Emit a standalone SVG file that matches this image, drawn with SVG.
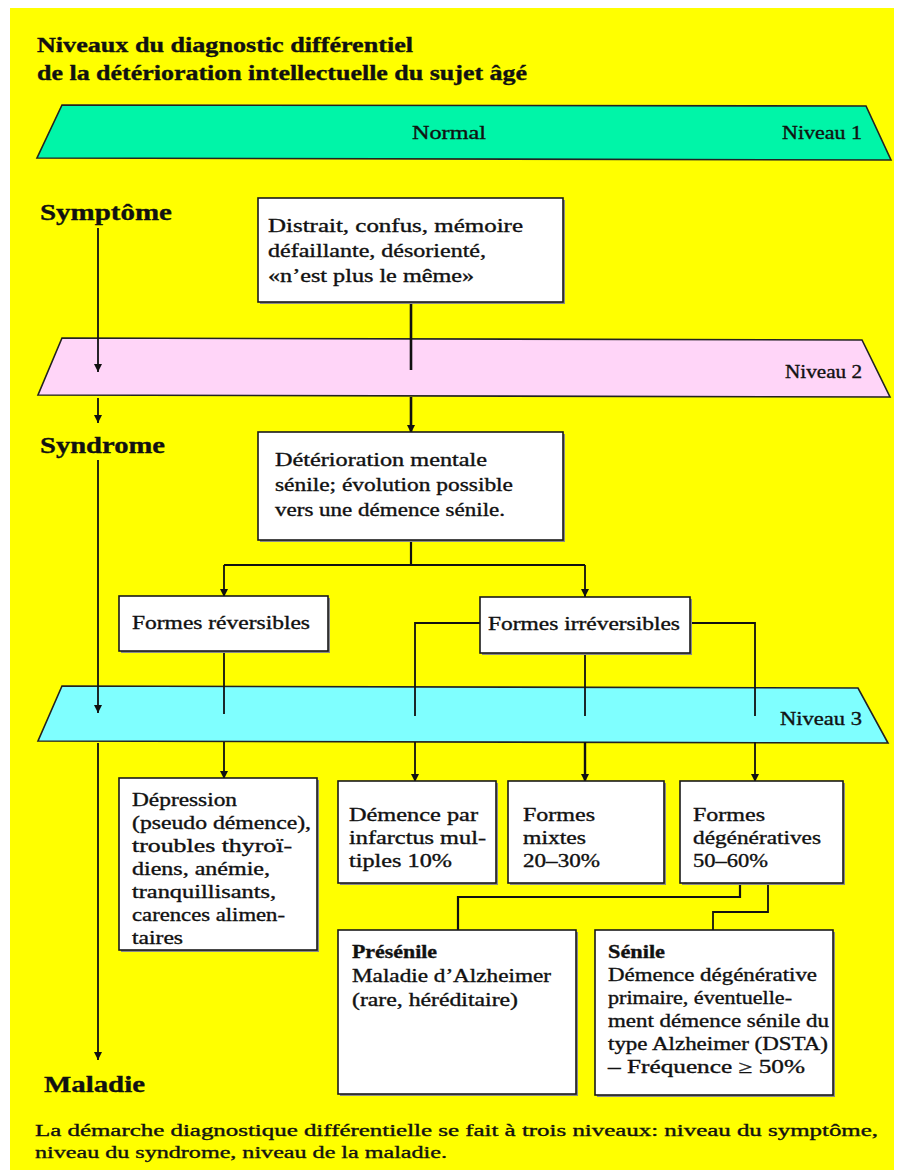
<svg xmlns="http://www.w3.org/2000/svg" width="897" height="1170" viewBox="0 0 897 1170">
<defs>
<marker id="arr" markerUnits="userSpaceOnUse" markerWidth="8" markerHeight="9" refX="8" refY="4" orient="auto" viewBox="0 0 8 8">
<path d="M0,0 L8,4 L0,8 Z" fill="#111"/>
</marker>
</defs>
<style>
.t{font-family:"Liberation Serif","Times New Roman",serif;fill:#111;stroke:#111;stroke-width:0.35}
.title{font-size:20px;font-weight:bold}
.lvl{font-size:23px;font-weight:bold}
.bx{font-size:18px}
.b{font-weight:bold}
.cap{font-size:16px}
.box{fill:#fff;stroke:#1a1a1a;stroke-width:1.6}
.sh{fill:#8a8a8a}
.band{stroke:#222;stroke-width:1.6}
.ln{fill:none;stroke:#111;stroke-width:1.8}
</style>
<rect x="0" y="0" width="897" height="1170" fill="#fff"/>
<rect x="10" y="8" width="884" height="1162" fill="#ffff00"/>

<g id="title">
<text class="t title" x="37" y="52" textLength="376" lengthAdjust="spacingAndGlyphs">Niveaux du diagnostic différentiel</text>
<text class="t title" x="37" y="80" textLength="490" lengthAdjust="spacingAndGlyphs">de la détérioration intellectuelle du sujet âgé</text>
</g>

<g id="niveau1">
<polygon class="band" points="62,105 866,106 891,160 37,158" fill="#00f5a8"/>
<text class="t bx" x="412" y="139" textLength="74" lengthAdjust="spacingAndGlyphs">Normal</text>
<text class="t bx" x="782" y="139" textLength="80" lengthAdjust="spacingAndGlyphs">Niveau 1</text>
</g>

<g id="niveau2">
<polygon class="band" points="62,338 862,340 890,397 38,395" fill="#ffd5f8"/>
<text class="t bx" x="785" y="378" textLength="77" lengthAdjust="spacingAndGlyphs">Niveau 2</text>
</g>

<g id="niveau3">
<polygon class="band" points="62,686 858,688 888,743 38,741" fill="#7fffff"/>
<text class="t bx" x="780" y="725" textLength="82" lengthAdjust="spacingAndGlyphs">Niveau 3</text>
</g>

<g id="labels">
<text class="t lvl" x="40" y="220" textLength="132" lengthAdjust="spacingAndGlyphs">Symptôme</text>
<text class="t lvl" x="40" y="453" textLength="125" lengthAdjust="spacingAndGlyphs">Syndrome</text>
<text class="t lvl" x="44" y="1092" textLength="101" lengthAdjust="spacingAndGlyphs">Maladie</text>
</g>

<g id="connectors">
<line class="ln" x1="98" y1="228" x2="98" y2="372" marker-end="url(#arr)"/>
<line class="ln" x1="98" y1="398" x2="98" y2="423" marker-end="url(#arr)"/>
<line class="ln" x1="98" y1="460" x2="98" y2="713" marker-end="url(#arr)"/>
<line class="ln" x1="98" y1="743" x2="98" y2="1060" marker-end="url(#arr)"/>
<line class="ln" x1="411" y1="302" x2="411" y2="370" style="stroke-width:2.6"/>
<line class="ln" x1="411" y1="397" x2="411" y2="433" style="stroke-width:2.6" marker-end="url(#arr)"/>
<path class="ln" d="M411,540 V565 M224,565 H585" style="stroke-width:2.2"/>
<line class="ln" x1="224" y1="565" x2="224" y2="597" marker-end="url(#arr)"/>
<line class="ln" x1="585" y1="565" x2="585" y2="597" marker-end="url(#arr)"/>
<line class="ln" x1="224" y1="652" x2="224" y2="714"/>
<line class="ln" x1="224" y1="742" x2="224" y2="779" marker-end="url(#arr)"/>
<path class="ln" d="M480,623 H415 V716"/>
<line class="ln" x1="415" y1="742" x2="415" y2="782" marker-end="url(#arr)"/>
<line class="ln" x1="585" y1="654" x2="585" y2="716"/>
<line class="ln" x1="585" y1="742" x2="585" y2="782" style="stroke-width:2.4" marker-end="url(#arr)"/>
<path class="ln" d="M690,623 H755 V716"/>
<line class="ln" x1="755" y1="742" x2="755" y2="782" marker-end="url(#arr)"/>
<path class="ln" d="M740,884 V897 H458 V930" style="stroke-width:2.2"/>
<path class="ln" d="M768,884 V912 H713 V930"/>
</g>

<g id="box-symptome">
<rect class="sh" x="260" y="200" width="305" height="104"/>
<rect class="box" x="258" y="198" width="305" height="104"/>
<text class="t bx" x="268" y="232" textLength="255" lengthAdjust="spacingAndGlyphs">Distrait, confus, mémoire</text>
<text class="t bx" x="268" y="257" textLength="218" lengthAdjust="spacingAndGlyphs">défaillante, désorienté,</text>
<text class="t bx" x="268" y="282" textLength="206" lengthAdjust="spacingAndGlyphs">«n’est plus le même»</text>
</g>

<g id="box-syndrome">
<rect class="sh" x="260" y="434" width="305" height="108"/>
<rect class="box" x="258" y="432" width="305" height="108"/>
<text class="t bx" x="275" y="466" textLength="212" lengthAdjust="spacingAndGlyphs">Détérioration mentale</text>
<text class="t bx" x="275" y="491" textLength="238" lengthAdjust="spacingAndGlyphs">sénile; évolution possible</text>
<text class="t bx" x="275" y="516" textLength="230" lengthAdjust="spacingAndGlyphs">vers une démence sénile.</text>
</g>

<g id="box-reversibles">
<rect class="sh" x="121" y="598" width="209" height="55"/>
<rect class="box" x="119" y="596" width="209" height="55"/>
<text class="t bx" x="132" y="629" textLength="178" lengthAdjust="spacingAndGlyphs">Formes réversibles</text>
</g>

<g id="box-irreversibles">
<rect class="sh" x="482" y="599" width="210" height="56"/>
<rect class="box" x="480" y="597" width="210" height="56"/>
<text class="t bx" x="488" y="630" textLength="192" lengthAdjust="spacingAndGlyphs">Formes irréversibles</text>
</g>

<g id="box-depression">
<rect class="sh" x="121" y="780" width="198" height="172"/>
<rect class="box" x="119" y="778" width="198" height="172"/>
<text class="t bx" x="132" y="806" textLength="105" lengthAdjust="spacingAndGlyphs">Dépression</text>
<text class="t bx" x="132" y="829" textLength="179" lengthAdjust="spacingAndGlyphs">(pseudo démence),</text>
<text class="t bx" x="132" y="852" textLength="160" lengthAdjust="spacingAndGlyphs">troubles thyroï-</text>
<text class="t bx" x="132" y="875" textLength="138" lengthAdjust="spacingAndGlyphs">diens, anémie,</text>
<text class="t bx" x="132" y="898" textLength="144" lengthAdjust="spacingAndGlyphs">tranquillisants,</text>
<text class="t bx" x="132" y="921" textLength="153" lengthAdjust="spacingAndGlyphs">carences alimen-</text>
<text class="t bx" x="132" y="944" textLength="51" lengthAdjust="spacingAndGlyphs">taires</text>
</g>

<g id="box-infarctus">
<rect class="sh" x="340" y="783" width="158" height="102"/>
<rect class="box" x="338" y="781" width="158" height="102"/>
<text class="t bx" x="349" y="821" textLength="129" lengthAdjust="spacingAndGlyphs">Démence par</text>
<text class="t bx" x="349" y="844" textLength="137" lengthAdjust="spacingAndGlyphs">infarctus mul-</text>
<text class="t bx" x="349" y="867" textLength="103" lengthAdjust="spacingAndGlyphs">tiples 10%</text>
</g>

<g id="box-mixtes">
<rect class="sh" x="510" y="783" width="156" height="102"/>
<rect class="box" x="508" y="781" width="156" height="102"/>
<text class="t bx" x="523" y="821" textLength="72" lengthAdjust="spacingAndGlyphs">Formes</text>
<text class="t bx" x="523" y="844" textLength="63" lengthAdjust="spacingAndGlyphs">mixtes</text>
<text class="t bx" x="523" y="867" textLength="77" lengthAdjust="spacingAndGlyphs">20–30%</text>
</g>

<g id="box-degeneratives">
<rect class="sh" x="682" y="783" width="163" height="102"/>
<rect class="box" x="680" y="781" width="163" height="102"/>
<text class="t bx" x="693" y="821" textLength="72" lengthAdjust="spacingAndGlyphs">Formes</text>
<text class="t bx" x="693" y="844" textLength="128" lengthAdjust="spacingAndGlyphs">dégénératives</text>
<text class="t bx" x="693" y="867" textLength="75" lengthAdjust="spacingAndGlyphs">50–60%</text>
</g>

<g id="box-presenile">
<rect class="sh" x="340" y="932" width="238" height="164"/>
<rect class="box" x="338" y="930" width="238" height="164"/>
<text class="t bx b" x="352" y="958" textLength="85" lengthAdjust="spacingAndGlyphs">Présénile</text>
<text class="t bx" x="352" y="982" textLength="199" lengthAdjust="spacingAndGlyphs">Maladie d’Alzheimer</text>
<text class="t bx" x="352" y="1006" textLength="166" lengthAdjust="spacingAndGlyphs">(rare, héréditaire)</text>
</g>

<g id="box-senile">
<rect class="sh" x="597" y="932" width="238" height="165"/>
<rect class="box" x="595" y="930" width="238" height="165"/>
<text class="t bx b" x="608" y="958" textLength="57" lengthAdjust="spacingAndGlyphs">Sénile</text>
<text class="t bx" x="608" y="981" textLength="209" lengthAdjust="spacingAndGlyphs">Démence dégénérative</text>
<text class="t bx" x="608" y="1004" textLength="184" lengthAdjust="spacingAndGlyphs">primaire, éventuelle-</text>
<text class="t bx" x="608" y="1027" textLength="221" lengthAdjust="spacingAndGlyphs">ment démence sénile du</text>
<text class="t bx" x="608" y="1050" textLength="220" lengthAdjust="spacingAndGlyphs">type Alzheimer (DSTA)</text>
<text class="t bx" x="608" y="1073" textLength="197" lengthAdjust="spacingAndGlyphs">– Fréquence ≥ 50%</text>
</g>

<g id="caption">
<text class="t cap" x="35" y="1136" textLength="843" lengthAdjust="spacingAndGlyphs">La démarche diagnostique différentielle se fait à trois niveaux: niveau du symptôme,</text>
<text class="t cap" x="35" y="1158" textLength="412" lengthAdjust="spacingAndGlyphs">niveau du syndrome, niveau de la maladie.</text>
</g>
</svg>
